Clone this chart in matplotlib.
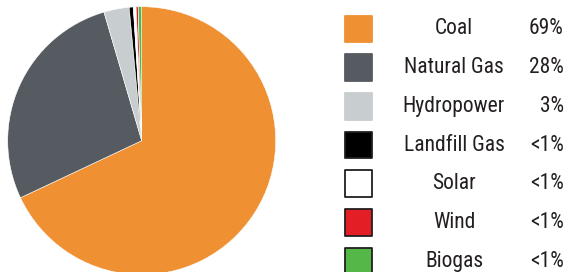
import matplotlib
matplotlib.use("Agg")
import matplotlib.pyplot as plt
from matplotlib import font_manager

# electricity generation mix
sources = ["Coal", "Natural Gas", "Hydropower", "Landfill Gas", "Solar", "Wind", "Biogas"]
shares = [68.1, 27.5, 3.05, 0.5, 0.33, 0.25, 0.42]
share_labels = ["69%", "28%", "3%", "<1%", "<1%", "<1%", "<1%"]
colors = ["#EF9033", "#565B61", "#C8CDD0", "#000000", "#FFFFFF", "#E31E24", "#54B848"]
box_edges = ["#EF9033", "#565B61", "#C8CDD0", "#231F20", "#231F20", "#231F20", "#231F20"]

# pick a narrow font if there is one
names = {f.name for f in font_manager.fontManager.ttflist}
font = "DejaVu Sans"
for cand in ["Roboto Condensed", "Liberation Sans Narrow", "DejaVu Sans Condensed", "Roboto"]:
    if cand in names:
        font = cand
        break
plt.rcParams["font.family"] = [font, "DejaVu Sans"]

fig = plt.figure(figsize=(5.67, 2.72), dpi=100)

# pie
ax = fig.add_axes([0.01358, -0.0099, 0.4727, 0.9853])
ax.pie(shares, colors=colors, startangle=90, counterclock=False,
       wedgeprops={"edgecolor": "white", "linewidth": 0.4})
ax.set_xlim(-1.0, 1.0)
ax.set_ylim(-1.0, 1.0)
ax.set_aspect("equal")
ax.axis("off")

# legend drawn in pixel-like coords
lg = fig.add_axes([0, 0, 1, 1], facecolor="none")
lg.set_xlim(0, 567)
lg.set_ylim(272, 0)
lg.axis("off")
rows = [29 + 38.7 * i for i in range(len(sources))]
lg.scatter([358.5] * len(sources), rows, s=370, marker="s",
           c=colors, edgecolors=box_edges, linewidths=1.3, zorder=3)
for y, name, lab in zip(rows, sources, share_labels):
    lg.text(454, y, name, ha="center", va="center", fontsize=15.5, color="#231F20")
    lg.text(564, y, lab, ha="right", va="center", fontsize=15.5, color="#231F20")

fig.savefig("out.png", dpi=100)
